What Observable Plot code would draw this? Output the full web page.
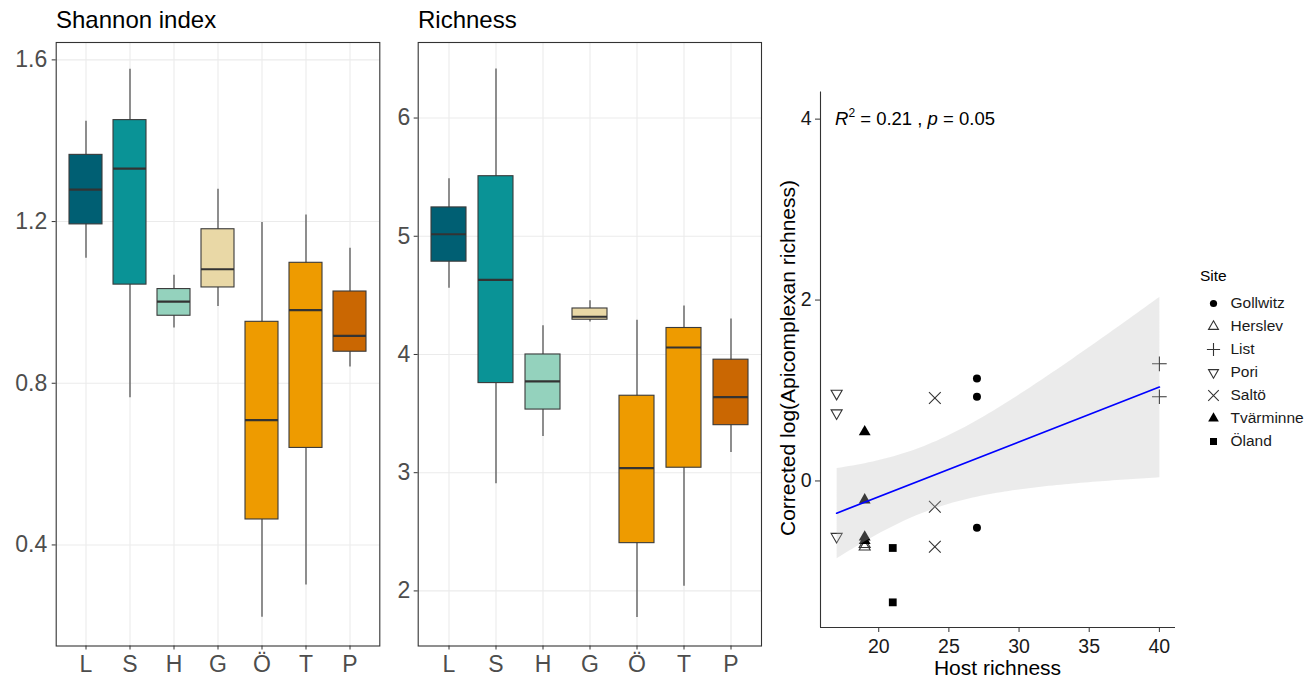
<!DOCTYPE html>
<html>
<head>
<meta charset="utf-8">
<script src="https://cdn.jsdelivr.net/npm/d3@7"></script>
<script src="https://cdn.jsdelivr.net/npm/@observablehq/plot@0.6"></script>
<style>
  html, body { margin: 0; padding: 0; background: #fff; }
  #chart { position: relative; width: 1305px; height: 680px; overflow: hidden; background: #fff;
           font-family: "Liberation Sans", Arial, sans-serif; }
  .abs { position: absolute; line-height: 1; white-space: nowrap; }
  .panel-title { font-size: 24px; color: #000; }
  .axis-title { font-size: 21px; color: #000; }
</style>
</head>
<body>
<div id="chart"></div>
<script>
// ---- Box-plot summaries per site (L = List, S = Saltö, H = Herslev, G = Gollwitz, Ö = Öland, T = Tvärminne, P = Pori)
const sites = ["L", "S", "H", "G", "Ö", "T", "P"];
const siteColors = ["#005F73", "#0A9396", "#94D2BD", "#E9D8A6", "#EE9B00", "#EE9B00", "#CA6702"];

const shannonLow  = [1.109, 0.764, 0.937, 0.990, 0.221, 0.301, 0.840];
const shannonQ1   = [1.193, 1.044, 0.967, 1.037, 0.463, 0.640, 0.878];
const shannonMed  = [1.279, 1.331, 1.002, 1.082, 0.709, 0.981, 0.917];
const shannonQ3   = [1.365, 1.451, 1.033, 1.181, 0.952, 1.098, 1.027];
const shannonHigh = [1.448, 1.577, 1.067, 1.280, 1.198, 1.216, 1.134];
const shannonTicks = [0.4, 0.8, 1.2, 1.6];

const richLow  = [4.561, 2.906, 3.306, 4.275, 1.776, 2.040, 3.171];
const richQ1   = [4.785, 3.758, 3.534, 4.294, 2.404, 3.042, 3.402];
const richMed  = [5.017, 4.631, 3.772, 4.319, 3.039, 4.059, 3.640];
const richQ3   = [5.244, 5.508, 4.000, 4.389, 3.651, 4.224, 3.956];
const richHigh = [5.486, 6.415, 4.242, 4.455, 4.290, 4.411, 4.301];
const richTicks = [2, 3, 4, 5, 6];

// ---- Host richness vs corrected apicomplexan richness
const siteNames = ["Gollwitz", "Herslev", "List", "Pori", "Saltö", "Tvärminne", "Öland"];
const sampleSite = ["Gollwitz", "Gollwitz", "Gollwitz", "Herslev", "Herslev", "List", "List",
                    "Pori", "Pori", "Pori", "Saltö", "Saltö", "Saltö",
                    "Tvärminne", "Tvärminne", "Tvärminne", "Tvärminne", "Öland", "Öland"];
const hostRichness = [27, 27, 27, 19, 19, 40, 40, 17, 17, 17, 24, 24, 24, 19, 19, 19, 19, 21, 21];
const apicoRichness = [1.134, 0.931, -0.516, -0.728, -0.700, 1.295, 0.931,
                       0.967, 0.751, -0.615, 0.918, -0.284, -0.728,
                       0.543, -0.210, -0.620, -0.660, -0.741, -1.342];
const hostTicks = [20, 25, 30, 35, 40];
const apicoTicks = [0, 2, 4];
const statLabel = {r2: "0.21", p: "0.05"};

const FONT = '"Liberation Sans", Arial, sans-serif';
const chart = document.getElementById("chart");

function place(node, left, top) {
  node.style.position = "absolute";
  node.style.left = left + "px";
  node.style.top = top + "px";
  chart.appendChild(node);
}
function label(html, cls, left, top) {
  const d = document.createElement("div");
  d.className = "abs " + cls;
  d.innerHTML = html;
  d.style.left = left + "px";
  d.style.top = top + "px";
  chart.appendChild(d);
  return d;
}

// Box plot panel built from five-number summaries
function boxPanel(low, q1, med, q3, high, yDomain, yTicks, m) {
  const rows = sites.map((s, i) => ({site: s, low: low[i], q1: q1[i], med: med[i], q3: q3[i], high: high[i]}));
  return Plot.plot({
    width: m.width, height: 680,
    marginLeft: m.left, marginRight: m.right, marginTop: 42, marginBottom: 34.5,
    style: {fontFamily: FONT, fontSize: "23px", color: "#4d4d4d", background: "transparent"},
    x: {type: "band", domain: sites, paddingInner: 0.25, paddingOuter: 0.225, label: null},
    y: {domain: yDomain, label: null},
    color: {domain: sites, range: siteColors},
    marks: [
      Plot.gridX({stroke: "#ebebeb", strokeOpacity: 1, strokeWidth: 1.1}),
      Plot.gridY(yTicks, {stroke: "#ebebeb", strokeOpacity: 1, strokeWidth: 1.1}),
      Plot.ruleX(rows, {x: "site", y1: "low", y2: "high", stroke: "#3a3a3a", strokeWidth: 1.1}),
      Plot.barY(rows, {x: "site", y1: "q1", y2: "q3", fill: "site", stroke: "#3a3a3a", strokeWidth: 1.1}),
      Plot.tickY(rows, {x: "site", y: "med", stroke: "#333", strokeWidth: 2.2}),
      Plot.frame({stroke: "#333", strokeWidth: 1.1}),
      Plot.axisX({tickSize: 4, tickPadding: 6, stroke: "#333"}),
      Plot.axisY(yTicks, {tickSize: 4, tickPadding: m.pad, stroke: "#333", tickFormat: m.format})
    ]
  });
}

place(boxPanel(shannonLow, shannonQ1, shannonMed, shannonQ3, shannonHigh, [0.15, 1.643], shannonTicks,
               {width: 390, left: 55.7, right: 10.7, pad: 5, format: d3.format(".1f")}), 0, 0);
label("Shannon index", "panel-title", 56, 7.5);

place(boxPanel(richLow, richQ1, richMed, richQ3, richHigh, [1.534, 6.639], richTicks,
               {width: 410, left: 57.7, right: 9, pad: 4, format: d3.format("d")}), 360, 0);
label("Richness", "panel-title", 418, 7.5);

// ---- Scatter with linear fit and 95% confidence band
const samples = hostRichness.map((x, i) => ({site: sampleSite[i], host: x, apico: apicoRichness[i]}));

const triangleDown = {
  draw(context, size) {
    const y = -Math.sqrt(size / (Math.sqrt(3) * 3));
    context.moveTo(0, -y * 2);
    context.lineTo(Math.sqrt(3) * y, y);
    context.lineTo(-Math.sqrt(3) * y, y);
    context.closePath();
  }
};
const siteStyle = {
  "Gollwitz":  {symbol: "circle",   filled: true,  r: 4},
  "Herslev":   {symbol: "triangle", filled: false, r: 4.1},
  "List":      {symbol: "plus",     filled: false, r: 4.8},
  "Pori":      {symbol: triangleDown, filled: false, r: 4.1},
  "Saltö":     {symbol: "times",    filled: false, r: 5.4},
  "Tvärminne": {symbol: "triangle", filled: true,  r: 4.4},
  "Öland":     {symbol: "square",   filled: true,  r: 4.4}
};
function siteDots(data, name, channels, scale = 1) {
  const st = siteStyle[name];
  const paint = st.filled ? {fill: "#000", stroke: "none"} : {fill: "none", stroke: "#333", strokeWidth: 1.1};
  return Plot.dot(data, {...channels, symbol: st.symbol, r: st.r * scale, ...paint});
}

const xDomain = [15.85, 41.15];
const yDomain = [-1.62, 4.3];
const scatter = Plot.plot({
  width: 420, height: 680,
  marginLeft: 50, marginRight: 15, marginTop: 91.5, marginBottom: 53,
  style: {fontFamily: FONT, fontSize: "19.5px", color: "#1a1a1a", background: "transparent"},
  x: {domain: xDomain, label: null},
  y: {domain: yDomain, label: null},
  marks: [
    ...siteNames.map(name => siteDots(samples.filter(d => d.site === name), name, {x: "host", y: "apico"})),
    Plot.linearRegressionY(samples, {x: "host", y: "apico", ci: 0.95,
      stroke: "#0000ff", strokeWidth: 1.7, fill: "#bdbdbd", fillOpacity: 0.3}),
    Plot.ruleX([xDomain[0]], {stroke: "#333", strokeWidth: 1.1}),
    Plot.ruleY([yDomain[0]], {stroke: "#333", strokeWidth: 1.1}),
    Plot.axisX(hostTicks, {tickSize: 5, tickPadding: 7, stroke: "#333", tickFormat: d3.format("d")}),
    Plot.axisY(apicoTicks, {tickSize: 5, tickPadding: 4, stroke: "#333", tickFormat: d3.format("d")})
  ]
});
place(scatter, 770, 0);

label(`<i>R</i><sup style="font-size:12px;vertical-align:8px;line-height:0">2</sup> = ${statLabel.r2} , <i>p</i> = ${statLabel.p}`,
      "", 835, 109.5).style.fontSize = "18.5px";

label("Host richness", "axis-title", 0, 657).style.cssText +=
  "left:997.5px;transform:translateX(-50%);";
const yt = label("Corrected log(Apicomplexan richness)", "axis-title", 787, 358);
yt.style.transform = "translate(-50%, -50%) rotate(-90deg)";

// ---- Site legend
const legend = Plot.plot({
  width: 115, height: 210,
  marginLeft: 23, marginRight: 0, marginTop: 52, marginBottom: 18.8,
  style: {fontFamily: FONT, fontSize: "15.5px", color: "#1a1a1a", background: "transparent"},
  y: {type: "point", domain: siteNames, padding: 0, axis: null},
  marks: [
    ...siteNames.map(name => siteDots([name], name, {y: d => d, frameAnchor: "left"}, 0.9)),
    Plot.text(siteNames, {y: d => d, text: d => d, frameAnchor: "left", dx: 17, textAnchor: "start", fill: "#1a1a1a"})
  ]
});
place(legend, 1190, 250);
label("Site", "", 1200, 267.5).style.fontSize = "15.5px";
</script>
</body>
</html>
